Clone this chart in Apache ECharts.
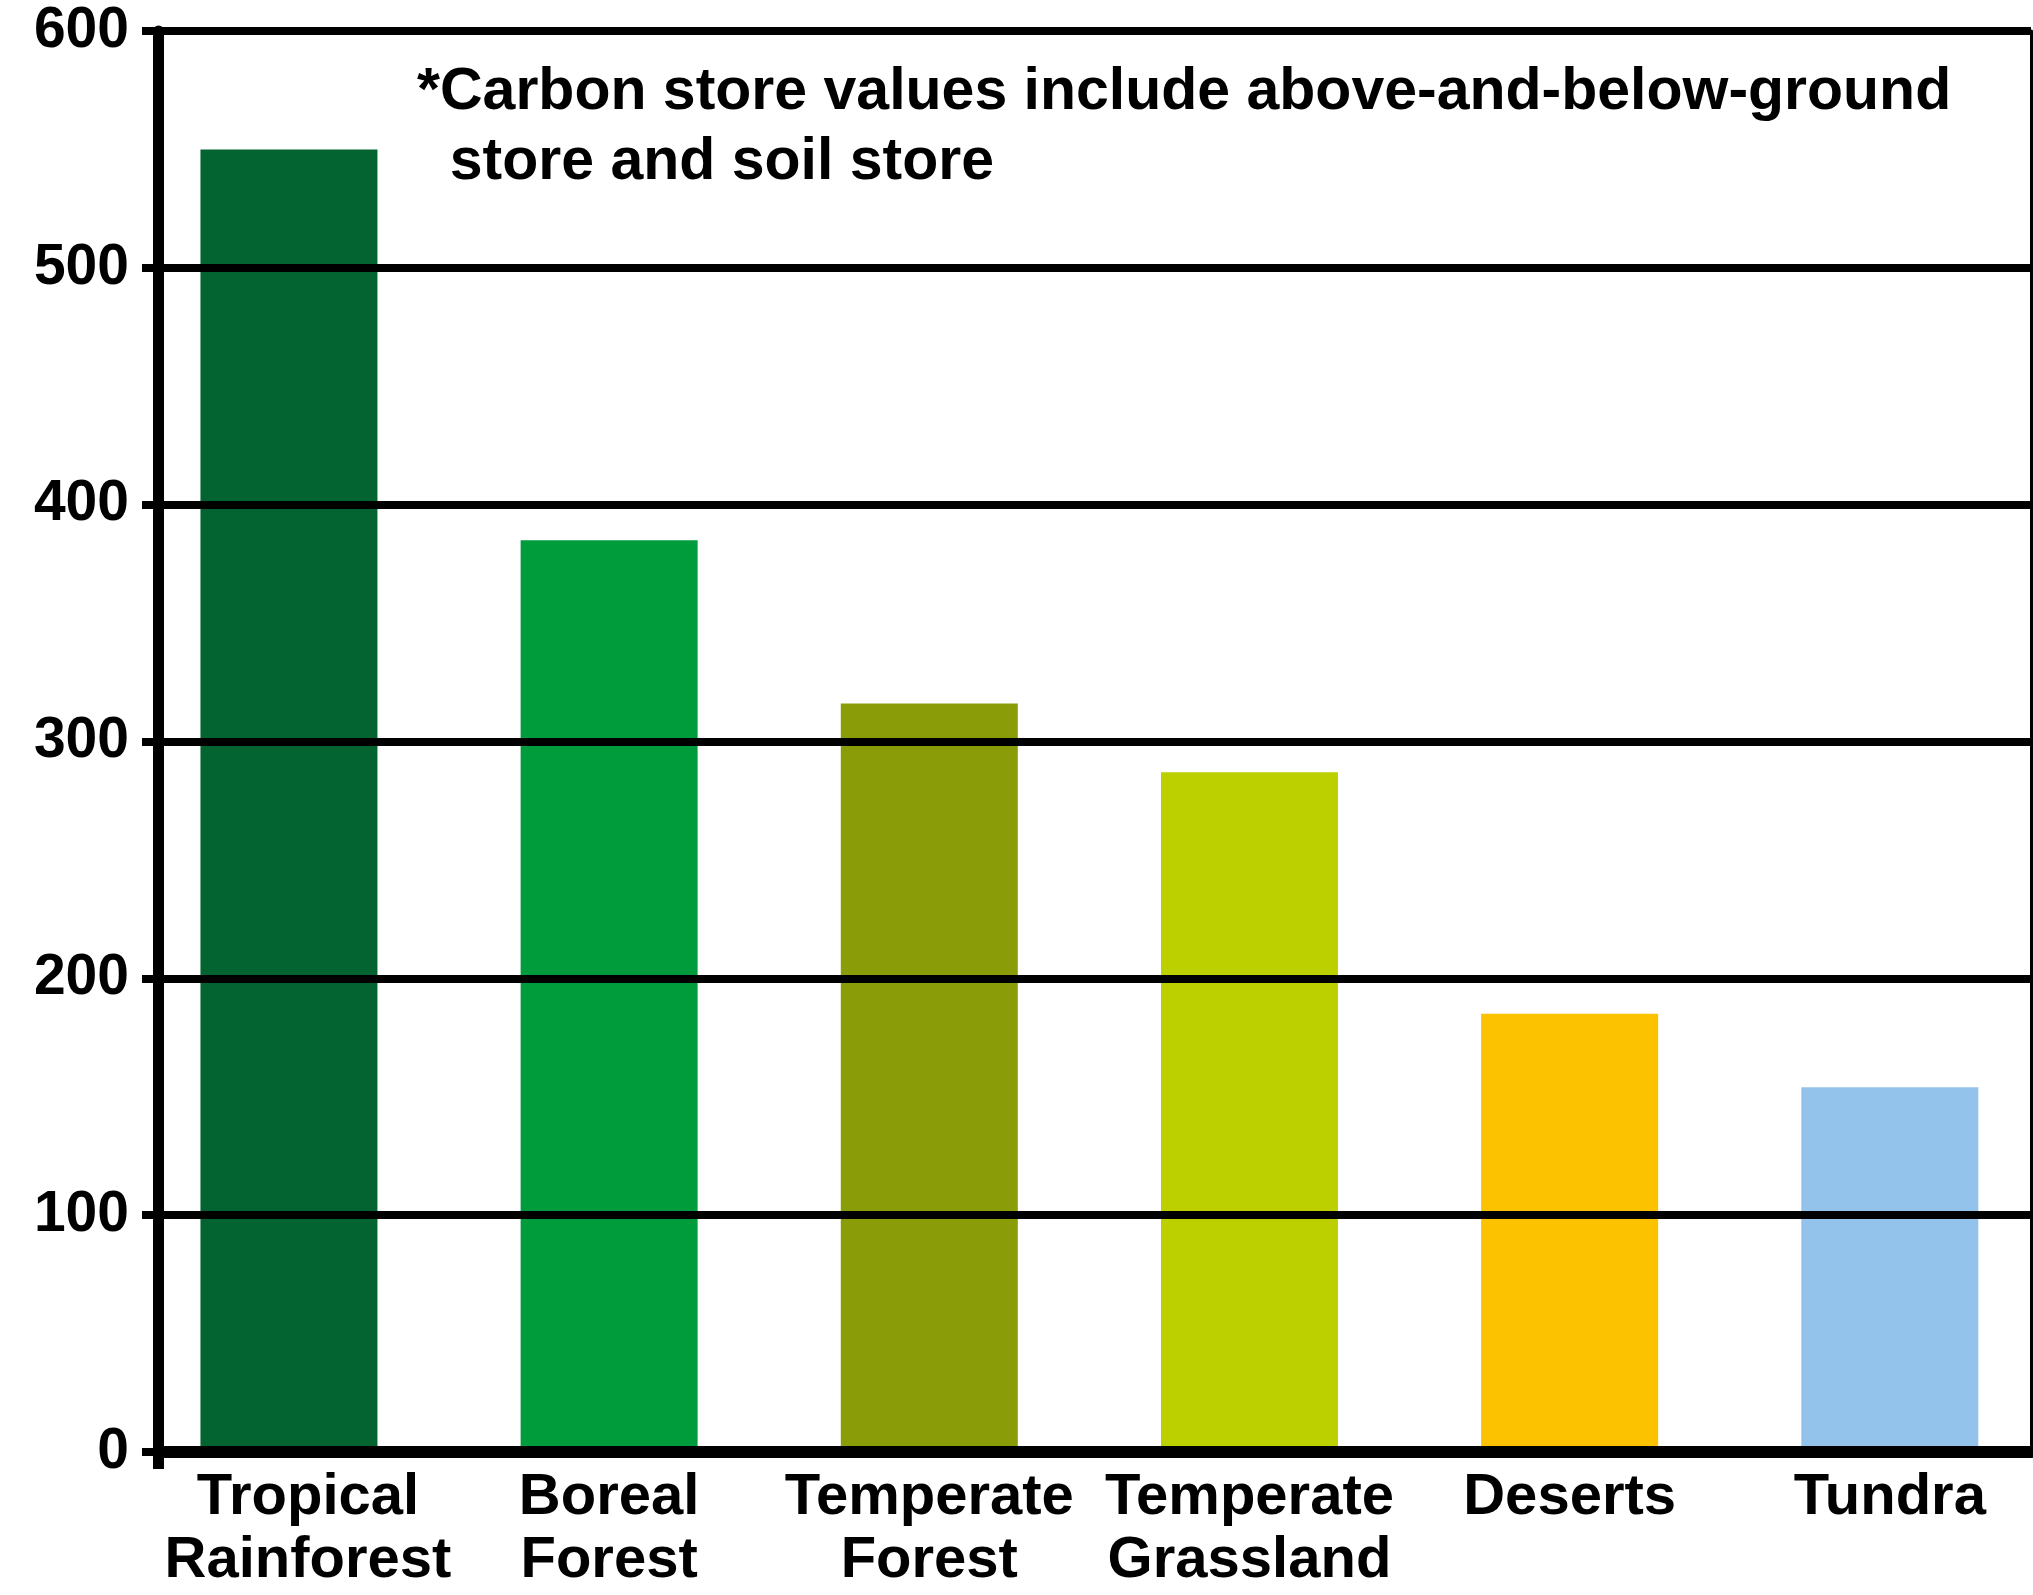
<!DOCTYPE html>
<html>
<head>
<meta charset="utf-8">
<title>Carbon store by biome</title>
<script src="https://cdn.jsdelivr.net/npm/echarts@6/dist/echarts.min.js"></script>
<style>
  html, body { margin: 0; padding: 0; background: #ffffff; }
  #chart { width: 2033px; height: 1595px; }
</style>
</head>
<body>
<div id="chart"></div>
<script>
// biomes and their carbon store
const categories = ['Tropical\nRainforest', 'Boreal\nForest', 'Temperate\nForest', 'Temperate\nGrassland', 'Deserts', 'Tundra']
const carbonStore = [550, 385, 316, 287, 185, 154]
const yTicks = [0, 100, 200, 300, 400, 500, 600]
const note = '*Carbon store values include above-and-below-ground\n  store and soil store'

// one colour per bar
const barColors = ['#036331', '#009c3c', '#8a9c08', '#bcd000', '#fcc200', '#93c3ea']

const font = "'Liberation Sans', Arial, Helvetica, sans-serif"
const xMin = -0.409
const xMax = 5.441

const labelStyle = {
  fontFamily: font,
  fontWeight: 'bold',
  fontSize: 58,
  lineHeight: 63,
  color: '#000000'
}

// first label sits a little right of its bar in the original
function categoryLabel(v) {
  const i = Math.round(v)
  const text = categories[i]
  if (i !== 0) return text
  return text.split('\n').map((t) => '{shift|' + t + '}').join('\n')
}

const chart = echarts.init(document.getElementById('chart'), null, { renderer: 'canvas' })

chart.setOption({
  animation: false,
  backgroundColor: '#ffffff',
  title: {
    text: note,
    left: 417,
    top: 58,
    padding: 0,
    textStyle: {
      fontFamily: font,
      fontWeight: 'bold',
      fontSize: 59,
      lineHeight: 70,
      color: '#000000'
    }
  },
  grid: { left: 158, right: 2, top: 31, bottom: 143 },
  xAxis: {
    type: 'value',
    min: xMin,
    max: xMax,
    z: 5,
    splitLine: { show: false },
    axisLine: { show: true, onZero: false, lineStyle: { color: '#000000', width: 12 } },
    axisTick: {
      show: true,
      customValues: [xMin],
      length: 17,
      lineStyle: { color: '#000000', width: 11 }
    },
    axisLabel: {
      customValues: [0, 1, 2, 3, 4, 5],
      formatter: categoryLabel,
      margin: 14,
      ...labelStyle,
      rich: {
        shift: { ...labelStyle, padding: [0, 0, 0, 38] }
      }
    }
  },
  yAxis: [
    {
      type: 'value',
      min: yTicks[0],
      max: yTicks[yTicks.length - 1],
      interval: 100,
      z: 5,
      axisLine: { show: true, onZero: false, lineStyle: { color: '#000000', width: 11 } },
      axisTick: { show: true, length: 16, lineStyle: { color: '#000000', width: 8 } },
      splitLine: { show: true, lineStyle: { color: '#000000', width: 8 } },
      axisLabel: {
        margin: 29,
        fontFamily: font,
        fontWeight: 'bold',
        fontSize: 57,
        color: '#000000'
      }
    },
    {
      // thin frame line on the right
      type: 'value',
      position: 'right',
      min: 0,
      max: 600,
      axisLine: { show: true, onZero: false, lineStyle: { color: '#000000', width: 3 } },
      axisTick: { show: false },
      axisLabel: { show: false },
      splitLine: { show: false }
    }
  ],
  series: [
    {
      type: 'bar',
      barWidth: 177,
      data: carbonStore.map((v, i) => ({
        value: [i, v],
        itemStyle: { color: barColors[i] }
      }))
    }
  ]
})
</script>
</body>
</html>
